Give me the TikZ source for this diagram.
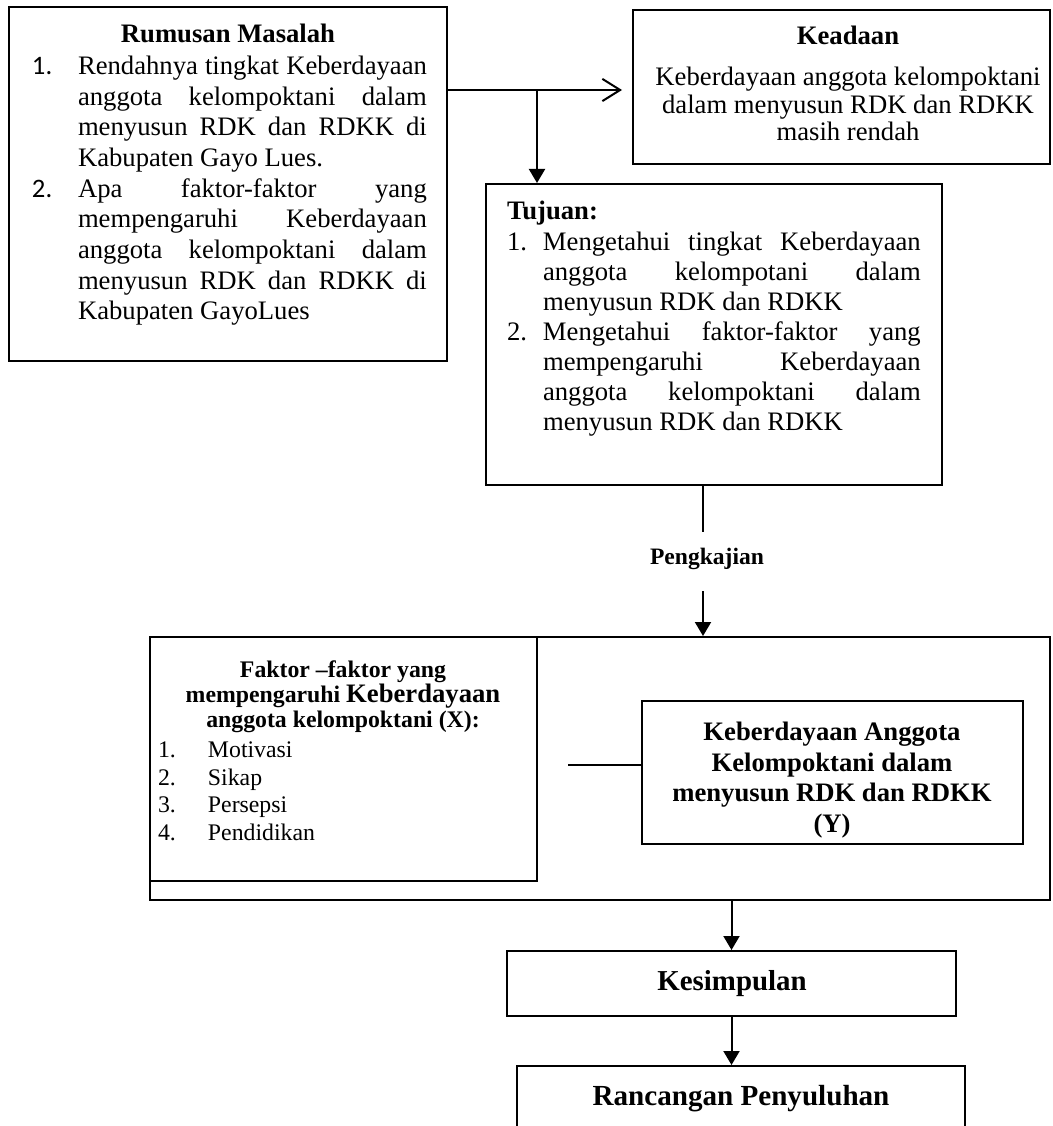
\documentclass[tikz,border=0pt]{standalone}
\usepackage{fontspec}
\setmainfont{Liberation Serif}
\newfontfamily\carlito{Carlito}
\usetikzlibrary{arrows.meta,fit,calc}
\newcommand{\jl}[2]{\makebox[#1][s]{#2}}
\begin{document}
\begin{tikzpicture}[x=0.45pt,y=-0.45pt,
  box/.style={draw,line width=0.9pt,inner sep=0pt},
  lbl/.style={inner sep=0pt,outer sep=0pt},
  conn/.style={line width=0.9pt},
  arr/.style={conn,-{Triangle[length=6.3pt,width=7.2pt]}},
  openarr/.style={conn,-{Straight Barb[length=8pt,width=10pt]}},
  listtext/.style={lbl,anchor=north west,align=left},
]
\useasboundingbox (0,0) rectangle (1052,1126);

% boxes
\node[box,fit={(9,7)(447,361)}] (rm) {};
\node[box,fit={(633,10)(1050,164)}] (kd) {};
\node[box,fit={(486,184)(942,485)}] (tj) {};
\node[box,fit={(150,637)(1050,900)}] (big) {};
\node[box,fit={(150,637)(537,881)}] (fx) {};
\node[box,fit={(642,701)(1023,844)}] (yb) {};
\node[box,fit={(507,951)(956,1016)}] (ks) {};
\node[box,fit={(517,1066)(965,1160)}] (rp) {};

% Rumusan Masalah
\node[lbl,anchor=base,font=\bfseries\fontsize{12}{13.8}\selectfont] (rmh) at (228,43) {Rumusan Masalah};
\node[listtext,font=\fontsize{12}{13.8}\selectfont] (rml) at (32,56) {%
\makebox[20.7pt][l]{\carlito 1.}\jl{157pt}{Rendahnya tingkat Keberdayaan}\\
\hspace*{20.7pt}\jl{157pt}{anggota kelompoktani dalam}\\
\hspace*{20.7pt}\jl{157pt}{menyusun RDK dan RDKK di}\\
\hspace*{20.7pt}Kabupaten Gayo Lues.\\
\makebox[20.7pt][l]{\carlito 2.}\jl{157pt}{Apa faktor-faktor yang}\\
\hspace*{20.7pt}\jl{157pt}{mempengaruhi Keberdayaan}\\
\hspace*{20.7pt}\jl{157pt}{anggota kelompoktani dalam}\\
\hspace*{20.7pt}\jl{157pt}{menyusun RDK dan RDKK di}\\
\hspace*{20.7pt}Kabupaten GayoLues};

% Keadaan
\node[lbl,anchor=base,font=\bfseries\fontsize{12}{13.8}\selectfont] (kdh) at (848,45) {Keadaan};
\node[lbl,anchor=north,align=center,font=\fontsize{12}{12.4}\selectfont] (kdt) at (848,67) {Keberdayaan anggota kelompoktani\\ dalam menyusun RDK dan RDKK\\ masih rendah};

% Tujuan
\node[lbl,anchor=base west,font=\bfseries\fontsize{12}{13.8}\selectfont] (tjh) at (507,220) {Tujuan:};
\node[listtext,font=\fontsize{12}{13.5}\selectfont] (tjl) at (507,232) {%
\makebox[16.2pt][l]{1.}\jl{170pt}{Mengetahui tingkat Keberdayaan}\\
\hspace*{16.2pt}\jl{170pt}{anggota kelompotani dalam}\\
\hspace*{16.2pt}menyusun RDK dan RDKK\\
\makebox[16.2pt][l]{2.}\jl{170pt}{Mengetahui faktor-faktor yang}\\
\hspace*{16.2pt}\jl{170pt}{mempengaruhi Keberdayaan}\\
\hspace*{16.2pt}\jl{170pt}{anggota kelompoktani dalam}\\
\hspace*{16.2pt}menyusun RDK dan RDKK};

% Pengkajian
\node[lbl,anchor=base,font=\bfseries\fontsize{10.6}{12}\selectfont] (pk) at (707,564) {Pengkajian};
\coordinate (p1) at (703,532);
\coordinate (p2) at (703,591);

% Faktor box text
\node[lbl,anchor=base,font=\bfseries\fontsize{10.7}{12}\selectfont] (fh1) at (343,677) {Faktor –faktor yang};
\node[lbl,anchor=base,font=\bfseries\fontsize{10.7}{12}\selectfont] (fh2) at (343,702) {mempengaruhi {\fontsize{12}{12}\selectfont Keberdayaan}};
\node[lbl,anchor=base,font=\bfseries\fontsize{10.7}{12}\selectfont] (fh3) at (343,727) {anggota kelompoktani (X):};
\node[listtext,font=\fontsize{10.7}{12.4}\selectfont] (fxl) at (158,742) {%
\makebox[22.5pt][l]{1.}Motivasi\\
\makebox[22.5pt][l]{2.}Sikap\\
\makebox[22.5pt][l]{3.}Persepsi\\
\makebox[22.5pt][l]{4.}Pendidikan};

% Y box text
\node[lbl,anchor=north,align=center,font=\bfseries\fontsize{12}{13.8}\selectfont] (ybt) at (832,722) {Keberdayaan Anggota\\ Kelompoktani dalam\\ menyusun RDK dan RDKK\\ (Y)};
\coordinate (h1) at (568,765);

% Kesimpulan, Rancangan
\node[lbl,anchor=base,font=\bfseries\fontsize{13}{15}\selectfont] (kst) at (732,990) {Kesimpulan};
\node[lbl,anchor=base,font=\bfseries\fontsize{13.1}{15}\selectfont] (rpt) at (741,1105) {Rancangan Penyuluhan};

% connectors
\coordinate (j1) at (537,90);
\draw[openarr] (rm.east |- j1) -- ($(kd.west |- j1)+(-10,0)$);
\draw[arr] (j1) -- (j1 |- tj.north);
\draw[conn] (tj.south -| p1) -- (p1);
\draw[arr] (p2) -- (p2 |- big.north);
\draw[conn] (h1) -- (h1 -| yb.west);
\draw[arr] (ks.north |- big.south) -- (ks.north);
\draw[arr] (ks.south) -- (ks.south |- rp.north);
\end{tikzpicture}
\end{document}
